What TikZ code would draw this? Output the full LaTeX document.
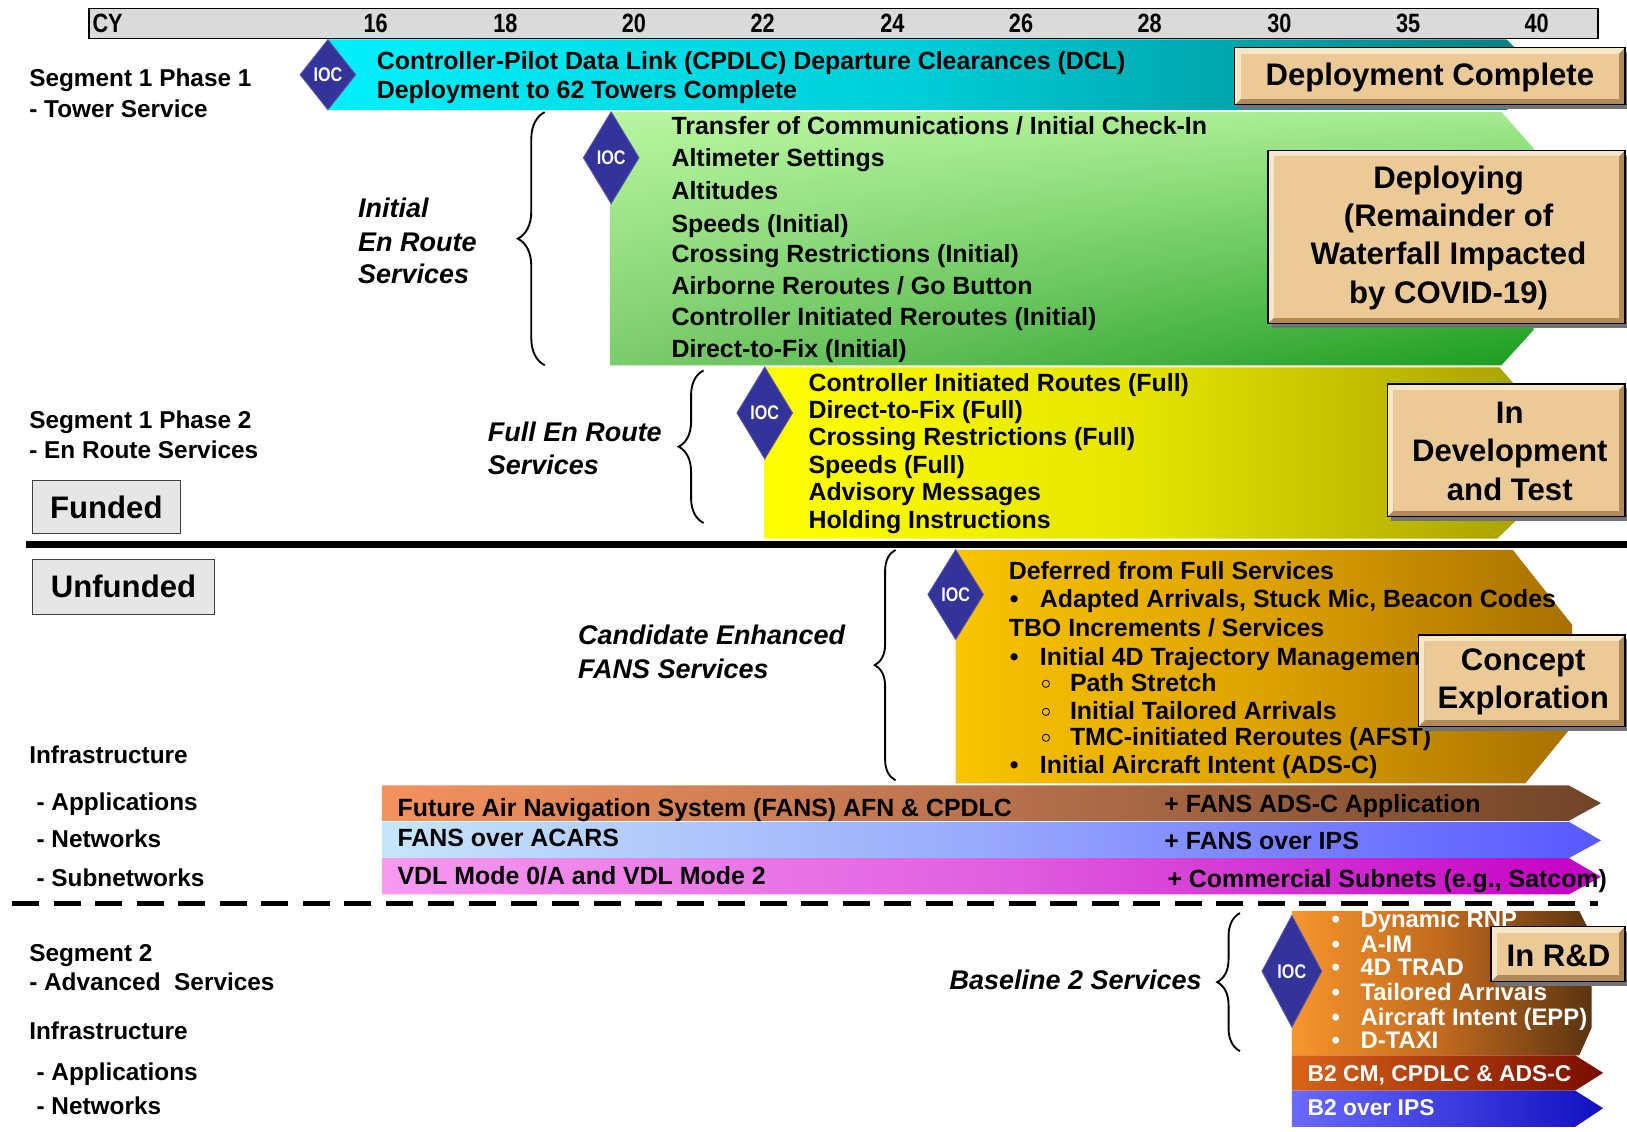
\documentclass[tikz,border=0pt]{standalone}
\usepackage{fontspec}
\setmainfont{Liberation Sans}
\newfontfamily\narrowf{Liberation Sans}[FakeStretch=0.82]
\usetikzlibrary{shapes.geometric,decorations.pathreplacing,shadings}
\definecolor{hdrgray}{HTML}{DADADA}
\definecolor{cyanL}{HTML}{00F0FA}
\definecolor{cyanM}{HTML}{00CCD6}
\definecolor{cyanR}{HTML}{007F82}
\definecolor{grUL}{HTML}{B8F6A0}
\definecolor{grUR}{HTML}{A4EA8E}
\definecolor{grLL}{HTML}{7CCB6C}
\definecolor{grLR}{HTML}{1A9C1E}
\definecolor{yeL}{HTML}{FFFF00}
\definecolor{yeM}{HTML}{E4E400}
\definecolor{yeR}{HTML}{A9A200}
\definecolor{orL}{HTML}{F9C400}
\definecolor{orM}{HTML}{DDA200}
\definecolor{orR}{HTML}{A87000}
\definecolor{apL}{HTML}{F4915E}
\definecolor{apM}{HTML}{B8724E}
\definecolor{apR}{HTML}{714428}
\definecolor{nwL}{HTML}{C6E6F9}
\definecolor{nwM}{HTML}{98A8FC}
\definecolor{nwR}{HTML}{5858FF}
\definecolor{snL}{HTML}{F79AF0}
\definecolor{snM}{HTML}{E060E0}
\definecolor{snR}{HTML}{C400C4}
\definecolor{blL}{HTML}{F7962E}
\definecolor{blM}{HTML}{C06A1E}
\definecolor{blR}{HTML}{5C3310}
\definecolor{cmL}{HTML}{D86418}
\definecolor{cmR}{HTML}{7A0C00}
\definecolor{ipL}{HTML}{6A6AFF}
\definecolor{ipR}{HTML}{1010C0}
\definecolor{iocblue}{HTML}{33339A}
\definecolor{iocedge}{HTML}{5A5AB0}
\definecolor{tanface}{HTML}{ECCA98}
\definecolor{tanlight}{HTML}{F8E6C8}
\definecolor{tandark}{HTML}{B08A58}
\definecolor{greybox}{HTML}{E6E6E6}
\newcommand\fsz[1]{\fontsize{#1}{#1}\selectfont}
\newcommand\tanbox[4]{%
 \fill[black!55] (#1+4,#2+4) rectangle (#3+4,#4+4);
 \fill[tandark] (#1,#2) rectangle (#3,#4);
 \fill[tanlight] (#1,#2) -- (#3,#2) -- (#3-6,#2+6) -- (#1+6,#2+6) -- (#1+6,#4-6) -- (#1,#4) -- cycle;
 \fill[tanface] (#1+6,#2+6) rectangle (#3-6,#4-6);
 \draw[line width=1.2] (#1,#2) rectangle (#3,#4);}
\tikzset{
 lbl/.style={inner sep=0, anchor=base west, font=\fsz{23.5}\bfseries},
 bartxt/.style={inner sep=0, anchor=base west, font=\fsz{24}\bfseries},
 whtxt/.style={inner sep=0, anchor=base west, font=\fsz{23}\bfseries, text=white},
 ital/.style={inner sep=0, anchor=base west, font=\fsz{26}\bfseries\itshape},
 hdr/.style={inner sep=0, anchor=base, font=\narrowf\fsz{25.5}\bfseries},
 ioc/.style={diamond, fill=iocblue, draw=iocedge, line width=0.8, inner sep=0, text=white, font=\narrowf\fsz{19}\bfseries},
 boxtxt/.style={align=center, inner sep=0, font=\fontsize{30}{37}\selectfont\bfseries},
 greyb/.style={draw=black!75, fill=greybox, line width=1.2},
 bracedeco/.style={decorate, decoration={brace, amplitude=#1}, line width=1.8},
}
\begin{document}
\begin{tikzpicture}[x=1pt,y=-1pt]
\useasboundingbox (0,0) rectangle (1568,1090);
\fill[white] (0,0) rectangle (1568,1090);
% header
\draw[fill=hdrgray, line width=1.5] (86,8) rectangle (1540,37);
\node[hdr, anchor=base west] (cy) at (89,31) {CY};
\foreach \n/\x in {16/362,18/487,20/611,22/735,24/860,26/984,28/1108,30/1233,35/1357,40/1481}
  \node[hdr] (yr\n) at (\x,31) {\n};
% bars
\shade[left color=cyanL, right color=cyanR, middle color=cyanM] (316,38) -- (1452,38) -- (1478,64) -- (1478,80) -- (1452,106) -- (316,106) -- cycle;
\shade[upper left=grUL, upper right=grUR, lower left=grLL, lower right=grLR] (588,108) -- (1447,108) -- (1478,143) -- (1478,318) -- (1447,352) -- (588,352) -- cycle;
\shade[left color=yeL, right color=yeR, middle color=yeM] (737,354) -- (1445,354) -- (1468,380) -- (1468,495) -- (1443,519) -- (737,519) -- cycle;
\shade[left color=orL, right color=orR, middle color=orM] (921,530) -- (1458,530) -- (1515,602) -- (1515,700) -- (1470,755) -- (921,755) -- cycle;
\shade[left color=apL, right color=apR, middle color=apM] (368,757) -- (1512,757) -- (1543,774) -- (1512,791) -- (368,791) -- cycle;
\shade[left color=nwL, right color=nwR, middle color=nwM] (368,792) -- (1512,792) -- (1543,810) -- (1512,827) -- (368,827) -- cycle;
\shade[left color=snL, right color=snR, middle color=snM] (368,827) -- (1512,827) -- (1543,845) -- (1512,862) -- (368,862) -- cycle;
\shade[left color=blL, right color=blR, middle color=blM] (1245,878) -- (1522,878) -- (1534,902) -- (1534,990) -- (1522,1017) -- (1245,1017) -- cycle;
\shade[left color=cmL, right color=cmR] (1245,1017) -- (1518,1017) -- (1545,1034) -- (1518,1051) -- (1245,1051) -- cycle;
\shade[left color=ipL, right color=ipR] (1245,1051) -- (1518,1051) -- (1545,1068) -- (1518,1086) -- (1245,1086) -- cycle;
% diamonds
\node[ioc, minimum width=54, minimum height=68] (ioc1) at (316,72) {IOC};
\node[ioc, minimum width=54, minimum height=89] (ioc2) at (589,152) {IOC};
\node[ioc, minimum width=54, minimum height=89] (ioc3) at (737,398) {IOC};
\node[ioc, minimum width=54, minimum height=87] (ioc4) at (921,573) {IOC};
\node[ioc, minimum width=58, minimum height=108] (ioc5) at (1245,936) {IOC};
% row 1 text
\node[bartxt] (c1) at (363,67) {Controller-Pilot Data Link (CPDLC) Departure Clearances (DCL)};
\node[bartxt] (c2) at (363,95) {Deployment to 62 Towers Complete};
% green text
\node[bartxt] (g1) at (647,130) {Transfer of Communications / Initial Check-In};
\node[bartxt] (g2) at (647,160) {Altimeter Settings};
\node[bartxt] (g3) at (647,192) {Altitudes};
\node[bartxt] (g4) at (647,224) {Speeds (Initial)};
\node[bartxt] (g5) at (647,253) {Crossing Restrictions (Initial)};
\node[bartxt] (g6) at (647,284) {Airborne Reroutes / Go Button};
\node[bartxt] (g7) at (647,314) {Controller Initiated Reroutes (Initial)};
\node[bartxt] (g8) at (647,345) {Direct-to-Fix (Initial)};
% yellow text
\node[bartxt] (y1) at (779,377) {Controller Initiated Routes (Full)};
\node[bartxt] (y2) at (779,403) {Direct-to-Fix (Full)};
\node[bartxt] (y3) at (779,429) {Crossing Restrictions (Full)};
\node[bartxt] (y4) at (779,456) {Speeds (Full)};
\node[bartxt] (y5) at (779,482) {Advisory Messages};
\node[bartxt] (y6) at (779,509) {Holding Instructions};
% orange text
\node[bartxt] (o1) at (972,558) {Deferred from Full Services};
\node[bartxt] (o2b) at (973,585) {•};
\node[bartxt] (o2) at (1002,585) {Adapted Arrivals, Stuck Mic, Beacon Codes};
\node[bartxt] (o3) at (972,613) {TBO Increments / Services};
\node[bartxt] (o4b) at (973,641) {•};
\node[bartxt] (o4) at (1002,641) {Initial 4D Trajectory Management};
\draw[line width=0.8] (1008,659) circle[radius=3.5pt];
\node[bartxt] (o5) at (1031,666) {Path Stretch};
\draw[line width=0.8] (1008,686) circle[radius=3.5pt];
\node[bartxt] (o6) at (1031,693) {Initial Tailored Arrivals};
\draw[line width=0.8] (1008,711) circle[radius=3.5pt];
\node[bartxt] (o7) at (1031,718) {TMC-initiated Reroutes (AFST)};
\node[bartxt] (o8b) at (973,745) {•};
\node[bartxt] (o8) at (1002,745) {Initial Aircraft Intent (ADS-C)};
% infrastructure text
\node[bartxt] (i1) at (383,787) {Future Air Navigation System (FANS) AFN \& CPDLC};
\node[bartxt] (i2) at (1122,783) {+ FANS ADS-C Application};
\node[bartxt] (i3) at (383,816) {FANS over ACARS};
\node[bartxt] (i4) at (1122,819) {+ FANS over IPS};
\node[bartxt] (i5) at (383,852) {VDL Mode 0/A and VDL Mode 2};
\node[bartxt] (i6) at (1125,855) {+ Commercial Subnets (e.g., Satcom)};
% baseline 2 bullets
\begin{scope}
\clip (1245,878) -- (1522,878) -- (1534,902) -- (1534,990) -- (1522,1017) -- (1245,1017) -- cycle;
\foreach \t/\y [count=\k] in {Dynamic RNP/894, A-IM/918, 4D TRAD/940, Tailored Arrivals/964, Aircraft Intent (EPP)/988, D-TAXI/1010}{
  \node[whtxt] (bb\k) at (1283,\y) {•};
  \node[whtxt] (bt\k) at (1311,\y) {\t};}
\end{scope}
\node[whtxt, font=\fsz{22}\bfseries] (b2a) at (1260,1042) {B2 CM, CPDLC \& ADS-C};
\node[whtxt, font=\fsz{22}\bfseries] (b2b) at (1260,1075) {B2 over IPS};
% left labels
\node[lbl] (l1) at (28,83) {Segment 1 Phase 1};
\node[lbl] (l2) at (28,113) {- Tower Service};
\node[lbl] (l3) at (28,413) {Segment 1 Phase 2};
\node[lbl] (l4) at (28,442) {- En Route Services};
\node[lbl] (l5) at (28,736) {Infrastructure};
\node[lbl] (l6) at (35,781) {- Applications};
\node[lbl] (l7) at (35,817) {- Networks};
\node[lbl] (l8) at (35,854) {- Subnetworks};
\node[lbl] (l9) at (28,927) {Segment 2};
\node[lbl] (l10) at (28,955) {- Advanced\ \ Services};
\node[lbl] (l11) at (28,1002) {Infrastructure};
\node[lbl] (l12) at (35,1041) {- Applications};
\node[lbl] (l13) at (35,1074) {- Networks};
% italic labels
\node[ital] (it1) at (345,210) {Initial};
\node[ital] (it2) at (345,242) {En Route};
\node[ital] (it3) at (345,273) {Services};
\node[ital] (it4) at (470,425) {Full En Route};
\node[ital] (it5) at (470,457) {Services};
\node[ital] (it6) at (557,621) {Candidate Enhanced};
\node[ital] (it7) at (557,654) {FANS Services};
\node[ital] (it8) at (915,954) {Baseline 2 Services};
% braces
\draw[bracedeco=26pt] (525,352) -- (525,108);
\draw[bracedeco=24pt] (678,504) -- (678,357);
\draw[bracedeco=20pt] (863,752) -- (863,530);
\draw[bracedeco=22pt] (1195,1013) -- (1195,880);
% funded / unfunded
\draw[greyb] (31,463) rectangle (174,514);
\node[font=\fsz{30}\bfseries, inner sep=0] (fund) at (102.5,488.5) {Funded};
\draw[greyb] (31,539) rectangle (207,592);
\node[font=\fsz{30}\bfseries, inner sep=0] (unfund) at (119,565.5) {Unfunded};
% separators
\draw[line width=7] (25,525) -- (1568,525);
\draw[line width=4.5, dash pattern=on 26pt off 14pt] (12,871) -- (1540,871);
% status boxes
\tanbox{1190}{46}{1566}{101}
\node[boxtxt] (s1) at (1378,74.5) {Deployment Complete};
\tanbox{1222}{145}{1566}{312}
\node[boxtxt] (s2) at (1396,229) {Deploying\\(Remainder of\\Waterfall Impacted\\by COVID-19)};
\tanbox{1337}{370}{1566}{498}
\node[boxtxt] (s3) at (1455,435) {In\\Development\\and Test};
\tanbox{1367}{612}{1566}{700}
\node[boxtxt] (s4) at (1468,657) {Concept\\Exploration};
\tanbox{1437}{893}{1566}{946}
\node[boxtxt] (s5) at (1502,921) {In R\&D};
\end{tikzpicture}
\end{document}
